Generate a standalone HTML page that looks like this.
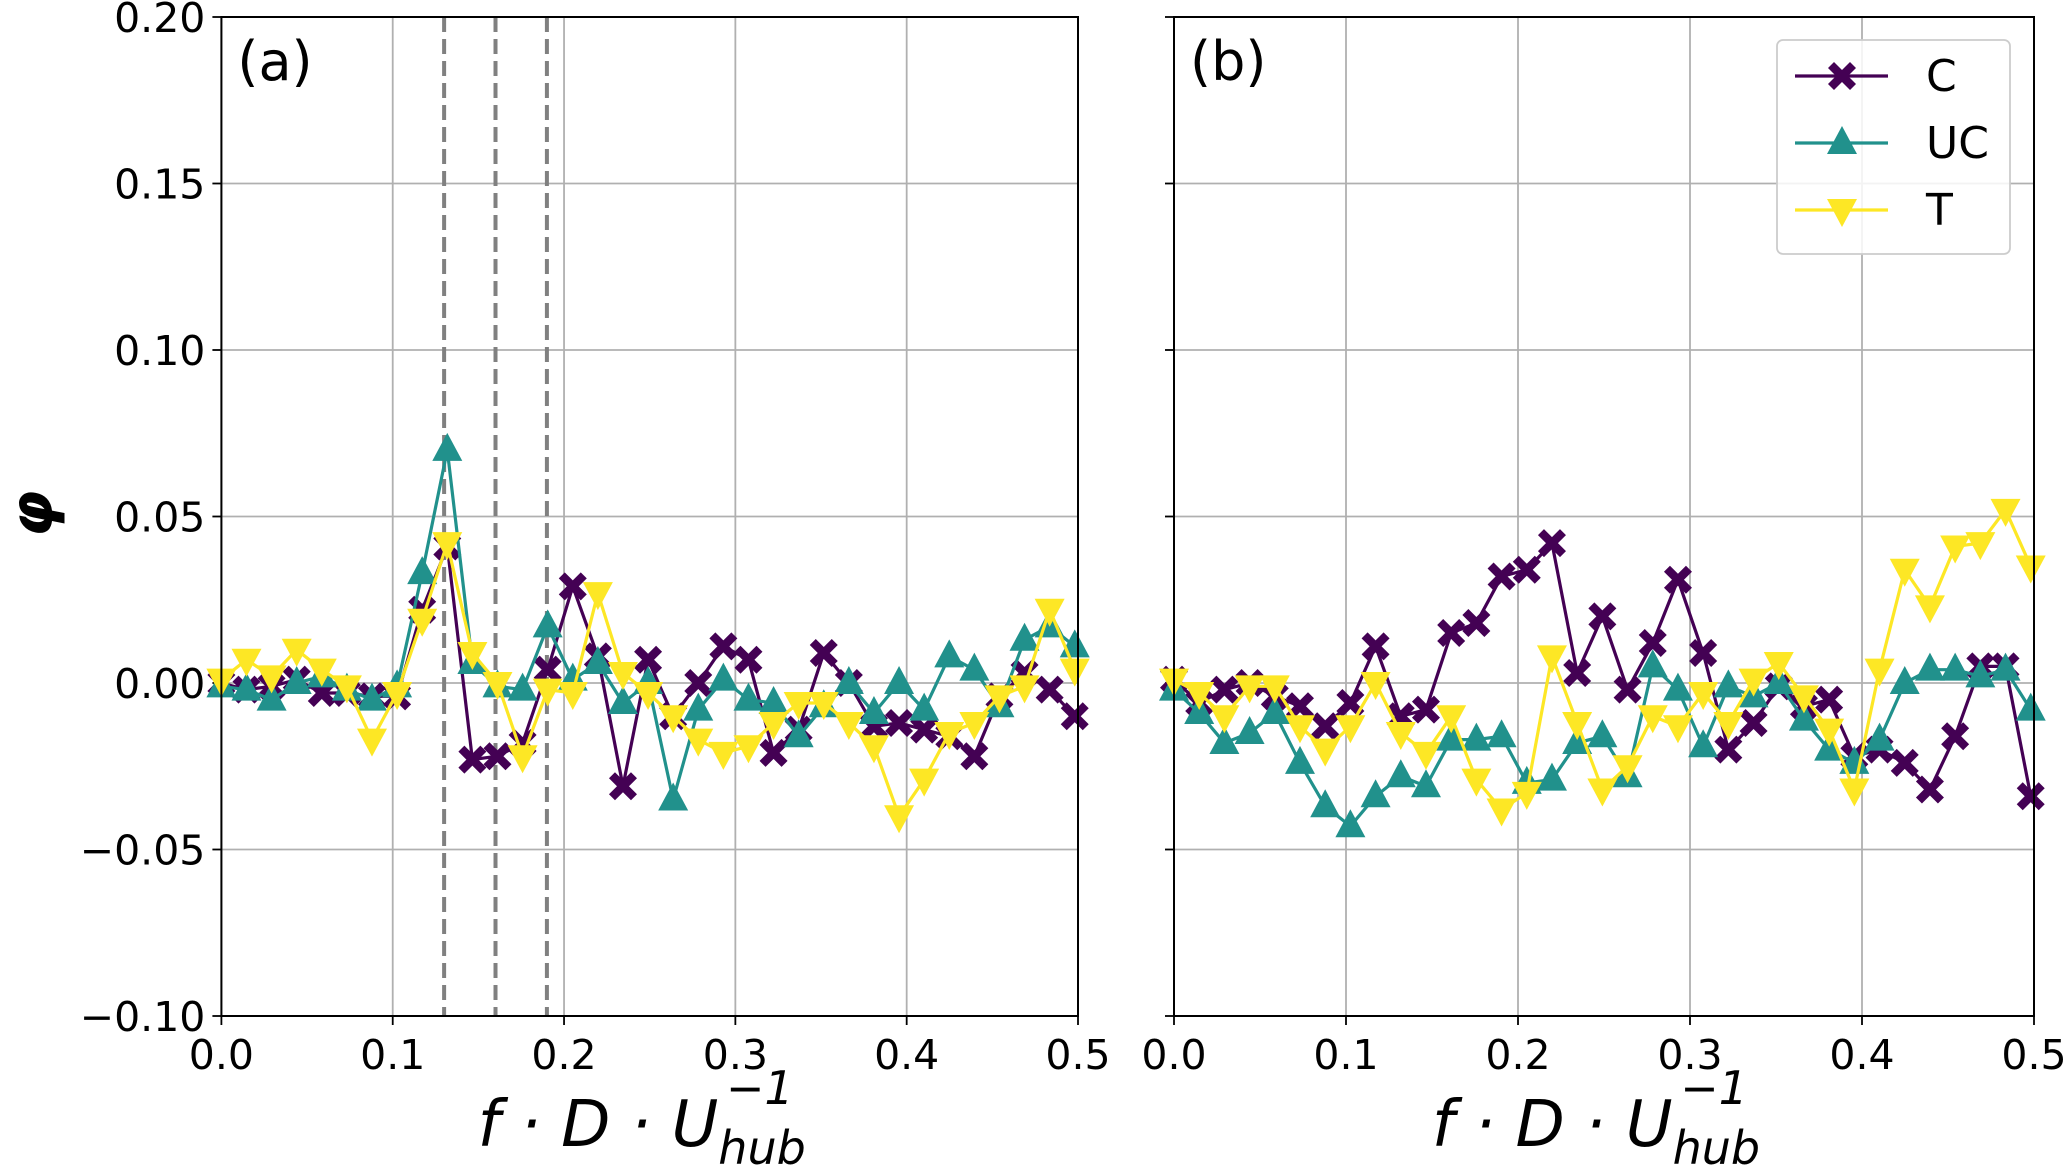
<!DOCTYPE html>
<html><head><meta charset="utf-8"><style>
html,body{margin:0;padding:0;background:#fff;}
svg{display:block;font-family:"DejaVu Sans","Liberation Sans",sans-serif;}
</style></head><body>
<svg id="chart" width="2067" height="1165" viewBox="0 0 2067 1165" xmlns="http://www.w3.org/2000/svg"></svg>
<script>
const df = 0.01465;
const panelAC = [0,-0.002,-0.001,0.001,-0.003,-0.003,-0.004,-0.004,0.022,0.041,-0.023,-0.022,-0.018,0.004,0.029,0.008,-0.031,0.007,-0.010,0,0.011,0.007,-0.021,-0.014,0.009,0,-0.013,-0.012,-0.014,-0.016,-0.022,-0.004,0.003,-0.002,-0.010];
const panelAUC = [-0.001,-0.002,-0.005,0,0.002,-0.002,-0.005,-0.001,0.033,0.070,0.006,-0.001,-0.002,0.017,0.001,0.006,-0.006,0,-0.035,-0.008,0.001,-0.005,-0.006,-0.016,-0.007,0,-0.009,0,-0.008,0.008,0.004,-0.007,0.013,0.017,0.011];
const panelAT = [0.001,0.007,0.002,0.010,0.004,-0.001,-0.017,-0.003,0.019,0.042,0.009,0,-0.022,-0.002,-0.003,0.027,0.003,-0.003,-0.010,-0.017,-0.021,-0.019,-0.012,-0.006,-0.006,-0.012,-0.019,-0.040,-0.029,-0.015,-0.012,-0.004,-0.001,0.022,0.004];
const panelBC = [0.001,-0.006,-0.002,0,-0.004,-0.007,-0.013,-0.006,0.011,-0.010,-0.008,0.015,0.018,0.032,0.034,0.042,0.003,0.020,-0.002,0.012,0.031,0.009,-0.020,-0.012,-0.001,-0.007,-0.005,-0.022,-0.020,-0.024,-0.032,-0.016,0.005,0.005,-0.034];
const panelBUC = [-0.002,-0.009,-0.018,-0.015,-0.009,-0.024,-0.037,-0.043,-0.034,-0.028,-0.031,-0.017,-0.017,-0.016,-0.030,-0.029,-0.018,-0.016,-0.028,0.005,-0.002,-0.019,-0.001,-0.004,0,-0.011,-0.020,-0.024,-0.017,0,0.004,0.004,0.002,0.004,-0.008];
const panelBT = [0.001,-0.003,-0.010,-0.001,-0.001,-0.013,-0.020,-0.013,0,-0.015,-0.021,-0.010,-0.029,-0.038,-0.033,0.008,-0.012,-0.032,-0.025,-0.010,-0.013,-0.003,-0.012,0.001,0.006,-0.004,-0.014,-0.032,0.004,0.034,0.023,0.041,0.042,0.052,0.035];
const xTicks = [0,0.1,0.2,0.3,0.4,0.5];
const xTickLabels = ["0.0","0.1","0.2","0.3","0.4","0.5"];
const yTicks = [-0.1,-0.05,0,0.05,0.1,0.15,0.2];
const yTickLabels = ["\u22120.10","\u22120.05","0.00","0.05","0.10","0.15","0.20"];
const dashedFreqs = [0.13,0.16,0.19];
const seriesNames = ["C","UC","T"];

const NS="http://www.w3.org/2000/svg";
const svg=document.getElementById('chart');
const colors={C:"#440154",UC:"#21918c",T:"#fde725"};
const Y0=17, Y1=1016;
function mk(tag,attrs,parent){const e=document.createElementNS(NS,tag);for(const k in attrs)e.setAttribute(k,attrs[k]);(parent||svg).appendChild(e);return e;}
function yScale(v){return Y1-(v+0.1)/0.3*(Y1-Y0);}
function marker(g,kind,cx,cy){
  let el;
  if(kind==="C"){
    const p=[[0,-6],[8,-14],[14,-8],[6,0],[14,8],[8,14],[0,6],[-8,14],[-14,8],[-6,0],[-14,-8],[-8,-14]];
    el=mk('polygon',{points:p.map(q=>(cx+q[0])+','+(cy+q[1])).join(' '),fill:colors.C},g);
  } else if(kind==="UC"){
    el=mk('polygon',{points:`${cx},${cy-17} ${cx+15},${cy+11} ${cx-15},${cy+11}`,fill:colors.UC},g);
  } else {
    el=mk('polygon',{points:`${cx},${cy+17} ${cx+15},${cy-11} ${cx-15},${cy-11}`,fill:colors.T},g);
  }
  return el;
}
function panel(px0,px1,data,label,showY,dashed,id){
  const xs=v=>px0+v/0.5*(px1-px0);
  const g=mk('g',{});
  
  
  xTicks.forEach((t,i)=>{
    const l=mk('line',{x1:xs(t),x2:xs(t),y1:Y0,y2:Y1,stroke:"#b0b0b0","stroke-width":1.8},g);
    
    
    const tk=mk('line',{x1:xs(t),x2:xs(t),y1:Y1,y2:Y1+9,stroke:"#000","stroke-width":1.8},g);
    
    
    const tx=mk('text',{x:xs(t),y:Y1+53,"text-anchor":"middle","font-size":41,fill:"#000"},g);
    tx.textContent=xTickLabels[i];
    
    
  });
  yTicks.forEach((t,i)=>{
    const l=mk('line',{x1:px0,x2:px1,y1:yScale(t),y2:yScale(t),stroke:"#b0b0b0","stroke-width":1.8},g);
    
    
    const tk=mk('line',{x1:px0-9,x2:px0,y1:yScale(t),y2:yScale(t),stroke:"#000","stroke-width":1.8},g);
    
    
    if(showY){
      const tx=mk('text',{x:px0-16,y:yScale(t)+15,"text-anchor":"end","font-size":41,fill:"#000"},g);
      tx.textContent=yTickLabels[i];
      
      
    }
  });
  if(dashed){
    dashedFreqs.forEach(f=>{
      const l=mk('line',{x1:xs(f),x2:xs(f),y1:Y0,y2:Y1,stroke:"#808080","stroke-width":4,"stroke-dasharray":"15,7"},g);
      
      
    });
  }
  seriesNames.forEach((name,si)=>{
    const vals=data[si];
    const pts=vals.map((v,i)=>[xs(i*df),yScale(v)]);
    const sg=mk('g',{},g);
    
    
    const pl=mk('polyline',{points:pts.map(p=>p.join(',')).join(' '),fill:"none",stroke:colors[name],"stroke-width":3.2},sg);
    
    
    pts.forEach(p=>{
      const m=marker(sg,name,p[0],p[1]);
      
      
    });
  });
  const fr=mk('rect',{x:px0,y:Y0,width:px1-px0,height:Y1-Y0,fill:"none",stroke:"#000","stroke-width":2},g);
  
  
  const lb=mk('text',{x:px0+16,y:80,"font-size":54,fill:"#000"},g);
  lb.textContent=label;
  
  
  const xl=mk('text',{x:(px0+px1)/2-8,y:1146,"text-anchor":"middle","font-size":64,"font-style":"italic",fill:"#000"},g);
  
  
  const t1=mk('tspan',{},xl); t1.textContent="f · D · U";
  const t2=mk('tspan',{dy:18,"font-size":46},xl); t2.textContent="hub";
  const t3=mk('tspan',{dy:-60,dx:-80,"font-size":46},xl); t3.textContent="−1";
}
panel(221.4,1078,[panelAC,panelAUC,panelAT],"(a)",true,true,'a');
panel(1174,2034,[panelBC,panelBUC,panelBT],"(b)",false,false,'b');
const yl=mk('text',{x:0,y:0,"text-anchor":"middle","font-size":60,"font-style":"italic","font-weight":"bold",fill:"#000",transform:"translate(52,514) rotate(-90)"});
yl.textContent="φ";


const lg=mk('g',{});


const lr=mk('rect',{x:1777,y:40,width:233,height:214,rx:6,fill:"#fff","fill-opacity":0.85,stroke:"#cccccc","stroke-width":1.8},lg);


seriesNames.forEach((name,i)=>{
  const y=76+i*67;
  const eg=mk('g',{},lg);
  
  
  mk('line',{x1:1795,x2:1888,y1:y,y2:y,stroke:colors[name],"stroke-width":3.2},eg);
  marker(eg,name,1842,y);
  const t=mk('text',{x:1926,y:y+15,"font-size":44,fill:"#000"},eg);
  t.textContent=name;
});
</script>
</body></html>
